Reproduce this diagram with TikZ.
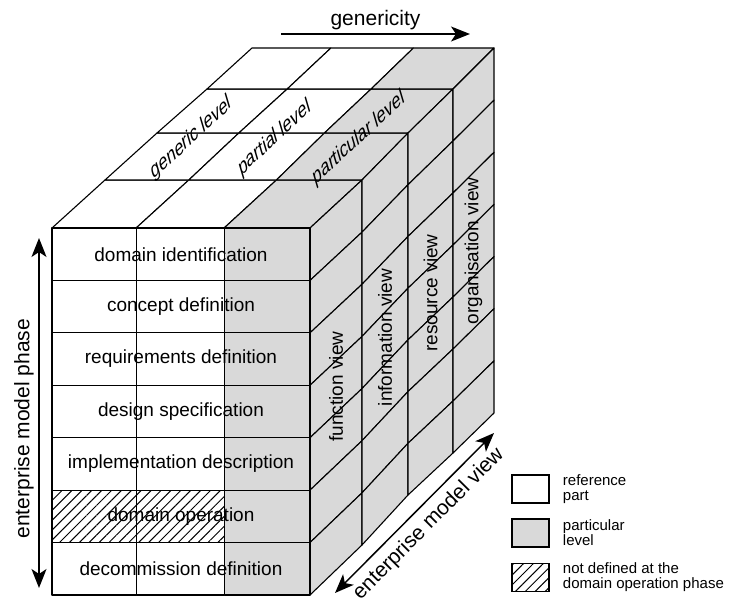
\documentclass[tikz,border=0pt]{standalone}
\usepackage{fontspec}
\setmainfont{Liberation Sans}
\usetikzlibrary{
	arrows.meta,
	positioning,
	calc,
	patterns.meta
}
\definecolor{lvlgray}{gray}{0.85}

\begin{document}
\begin{tikzpicture}[
				x=1pt, y=-1pt,
				face/.style={
					draw, line width=1.1pt, line join=round
				},
				phase/.style={
					font=\fontsize{19}{19}\selectfont
				},
				viewlabel/.style={
					font=\fontsize{19}{19}\selectfont, rotate=90
				},
				levellabel/.style={
					font=\fontsize{19}{19}\selectfont, rotate=43, xslant=0.5
				},
				hatch/.style={
					pattern={Lines[angle=45, distance=7pt, line width=1pt]}
				},
				axis/.style={line width=1.5pt, -{Stealth[length=19pt, width=15pt, inset=5pt]}},
				axisboth/.style={line width=1.5pt, {Stealth[length=19pt, width=15pt, inset=5pt]}-{Stealth[length=19pt, width=15pt, inset=5pt]}},
				axislabel/.style={font=\fontsize{21}{21}\selectfont, inner sep=3pt},
				legbox/.style={
					draw, line width=1.5pt, inner sep=0pt,
					minimum width=37pt, minimum height=28pt
				},
				legtext/.style={
					font=\fontsize{15}{15}\selectfont, align=left, inner sep=0pt
				}
				]
				\useasboundingbox (0,0) rectangle (729,602);
				
				% layers of the cube, front (0) to back (4): left, right, top, bottom
				\foreach \k/\l/\r/\t/\b in {0/52/310/228/595, 1/105/362/180/545, 2/157/408/133/495, 3/207/453/89/453, 4/252/494/48/413}{
					\foreach \j/\u in {0/0, 1/0.326, 2/0.667, 3/1}
						\coordinate (p\k\j) at ({\l+\u*(\r-\l)}, \t);
					\foreach \i in {0,...,7}
						\coordinate (q\k\i) at (\r, {\t+\i*(\b-\t)/7});
				}
				
				% top face
				\foreach \k/\n in {0/1, 1/2, 2/3, 3/4}
					\foreach \j/\m/\c in {0/1/white, 1/2/white, 2/3/lvlgray}
						\filldraw[face, fill=\c] (p\k\j) -- (p\k\m) -- (p\n\m) -- (p\n\j) -- cycle;
				
				% right face
				\foreach \k/\n in {0/1, 1/2, 2/3, 3/4}
					\foreach \i [count=\h from 1] in {0,...,6}
						\filldraw[face, fill=lvlgray] (q\k\i) -- (q\n\i) -- (q\n\h) -- (q\k\h) -- cycle;
				
				% front face
				\foreach \j/\m/\c in {0/1/white, 1/2/white, 2/3/lvlgray}
					\foreach \i [count=\h from 1] in {0,...,6}
						\filldraw[face, fill=\c] (p0\j |- q0\i) rectangle (p0\m |- q0\h);
				
				% not defined at the domain operation phase
				\fill[hatch] (p00 |- q05) rectangle (p02 |- q06);
				\draw[face] (p00 |- q05) rectangle (p01 |- q06) (p01 |- q05) rectangle (p02 |- q06);
				
				% phases
				\foreach \i/\txt [count=\h from 1] in {0/domain identification, 1/concept definition, 2/requirements definition, 3/design specification, 4/implementation description, 5/domain operation, 6/decommission definition}
					\node[phase] (phase\i) at ($(p00 |- q0\i)!0.5!(p03 |- q0\h)$) {\txt};
				
				% views
				\foreach \k/\n/\txt in {0/1/function view, 1/2/information view, 2/3/resource view, 3/4/organisation view}
					\node[viewlabel] (view\k) at ($(q\k0)!0.5!(q\n7)$) {\txt};
				
				% levels
				\foreach \j/\m/\txt in {0/1/generic level, 1/2/partial level, 2/3/particular level}
					\node[levellabel] (level\j) at ($(p0\j)!0.5!(p4\m)$) {\txt};
				
				% axes
				\coordinate (genL) at (281,34);
				\coordinate (genR) at (470,34);
				\draw[axis] (genL) -- node[axislabel, above] (genericity) {genericity} (genR);
				
				\coordinate (phTop) at (39,238);
				\coordinate (phBot) at (39,588);
				\draw[axisboth] (phTop) -- (phBot);
				\path (phBot) -- node[axislabel, sloped, above, pos=0.455, inner sep=5pt] (phaseaxis) {enterprise model phase} (phTop);
				
				\coordinate (vwLow) at (335,593);
				\coordinate (vwHigh) at (494,433);
				\draw[axisboth] (vwLow) -- (vwHigh);
				\path (vwLow) -- node[axislabel, sloped, below, pos=0.51, inner sep=8pt] (viewaxis) {enterprise model view} (vwHigh);
				
				% legend
				\node[legbox, fill=white] (refbox) at (530.5,489) {};
				\node[legtext, right=13pt of refbox] (reftext) {reference\\part};
				
				\node[legbox, fill=lvlgray] (lvlbox) at (530.5,533) {};
				\node[legtext, right=13pt of lvlbox] (lvltext) {particular\\level};
				
				\node[legbox, hatch] (nabox) at (530.5,577.5) {};
				\node[legtext, right=13pt of nabox] (natext) {not defined at the\\domain operation phase};
			\end{tikzpicture}
\end{document}
